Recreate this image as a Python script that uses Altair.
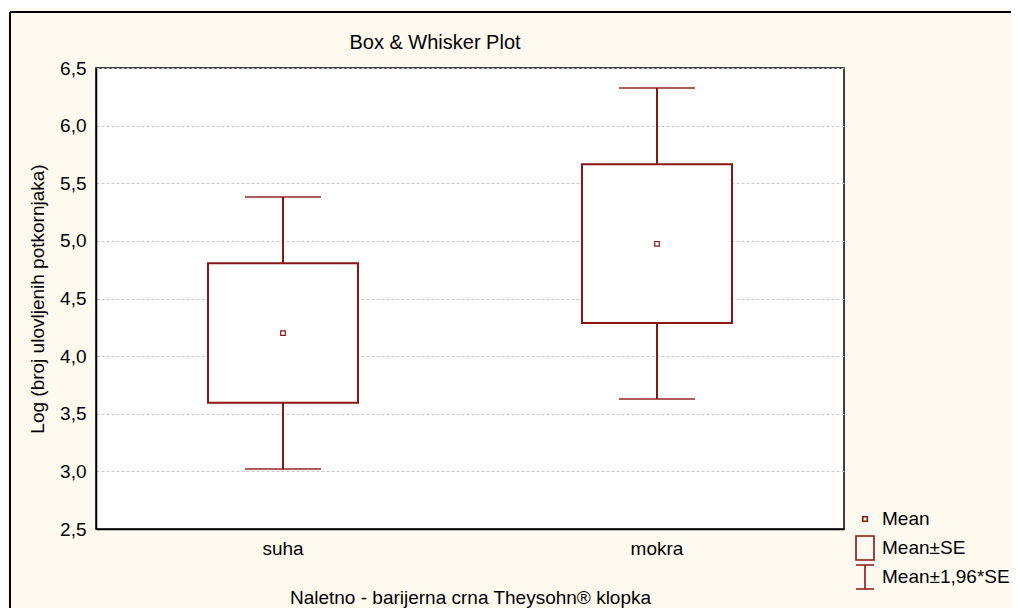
import altair as alt
import pandas as pd

# ---- data ----
categories = ["suha", "mokra"]
means = [4.20, 4.975]
box_low = [3.595, 4.287]      # Mean - SE
box_high = [4.805, 5.664]     # Mean + SE
whisk_low = [3.02, 3.627]     # Mean - 1,96*SE
whisk_high = [5.38, 6.326]    # Mean + 1,96*SE

legend_items = ["Mean", "Mean±SE", "Mean±1,96*SE"]
legend_paths = [
    "M0,-1M0,1M-0.19,-0.19H0.19V0.19H-0.19Z",
    "M-0.75,-1H0.75V1H-0.75Z",
    "M-0.75,-1H0.75M0,-1V1M-0.75,1H0.75",
]

RED = "#8C1515"
FONT = "Liberation Sans"
W, H = 748, 461

df = pd.DataFrame({
    "cat": categories,
    "mean": means,
    "lo": box_low,
    "hi": box_high,
    "wlo": whisk_low,
    "whi": whisk_high,
    "legend": ["Mean", "Mean"],
})

xenc = alt.X(
    "cat:N",
    sort=categories,
    scale=alt.Scale(paddingInner=0, paddingOuter=0),
    axis=alt.Axis(
        title="Naletno - barijerna crna Theysohn® klopka",
        labelAngle=0,
        ticks=False,
        labelPadding=10,
        titlePadding=30,
        domainColor="#000",
        domainWidth=1.5,
        grid=False,
    ),
)
yscale = alt.Scale(domain=[2.5, 6.5], nice=False, zero=False)
yaxis = alt.Axis(
    title="Log (broj ulovljenih potkornjaka)",
    values=[2.5, 3.0, 3.5, 4.0, 4.5, 5.0, 5.5, 6.0, 6.5],
    labelExpr="replace(format(datum.value, '.1f'), '.', ',')",
    ticks=False,
    labelPadding=10,
    titlePadding=12,
    domainColor="#000",
    domainWidth=1.5,
    grid=True,
    gridColor="#C8C8C8",
    gridDash=[3, 2],
    gridWidth=1,
)

base = alt.Chart(df)

whisker = base.mark_rule(color=RED, strokeWidth=2).encode(
    x=xenc,
    y=alt.Y("wlo:Q", scale=yscale, axis=yaxis),
    y2="whi:Q",
)
box = base.mark_bar(size=150, fill="white", stroke=RED, strokeWidth=2).encode(
    x=alt.X("cat:N", sort=categories),
    y=alt.Y("lo:Q"),
    y2="hi:Q",
)
cap_hi = base.mark_tick(color=RED, size=76, thickness=2, orient="horizontal").encode(
    x=alt.X("cat:N", sort=categories),
    y=alt.Y("whi:Q"),
)
cap_lo = base.mark_tick(color=RED, size=76, thickness=2, orient="horizontal").encode(
    x=alt.X("cat:N", sort=categories),
    y=alt.Y("wlo:Q"),
)
mean_pt = base.mark_point(color=RED, filled=False, size=576, strokeWidth=1.2, opacity=1).encode(
    x=alt.X("cat:N", sort=categories),
    y=alt.Y("mean:Q"),
    shape=alt.Shape(
        "legend:N",
        scale=alt.Scale(domain=legend_items, range=legend_paths),
        legend=alt.Legend(
            title=None,
            orient="none",
            legendX=756,
            legendY=438,
            symbolSize=576,
            symbolStrokeColor=RED,
            symbolFillColor="transparent",
            symbolStrokeWidth=1.6,
            labelFont=FONT,
            labelFontSize=19,
            labelColor="#000",
            labelOffset=4,
            rowPadding=-7,
            padding=0,
        ),
    ),
)

frame_df = pd.DataFrame({"a": [0]})
frame_left = alt.Chart(frame_df).mark_rule(color="#000", strokeWidth=2).encode(
    x=alt.value(-86), y=alt.value(-56), y2=alt.value(H + 200)
)
frame_top = alt.Chart(frame_df).mark_rule(color="#000", strokeWidth=2).encode(
    x=alt.value(-86), x2=alt.value(W + 300), y=alt.value(-56)
)

chart = alt.layer(frame_left, frame_top, whisker, box, cap_hi, cap_lo, mean_pt).properties(
    width=W,
    height=H,
    title=alt.Title("Box & Whisker Plot", fontSize=20, fontWeight="normal", font=FONT,
                    color="#000", anchor="middle", frame="group", dx=-35, offset=-42),
    autosize=alt.AutoSizeParams(type="none"),
    padding={"left": 88, "top": 60, "right": 167, "bottom": 79},
    background="#FFFAF0",
).configure_view(
    fill="white", stroke="#000", strokeWidth=1.5
).configure_axis(
    labelFont=FONT, titleFont=FONT, labelFontSize=19, titleFontSize=19,
    labelColor="#000", titleColor="#000", titleFontWeight="normal",
)

chart.save("out.html", embed_options={"renderer": "svg", "actions": False})
